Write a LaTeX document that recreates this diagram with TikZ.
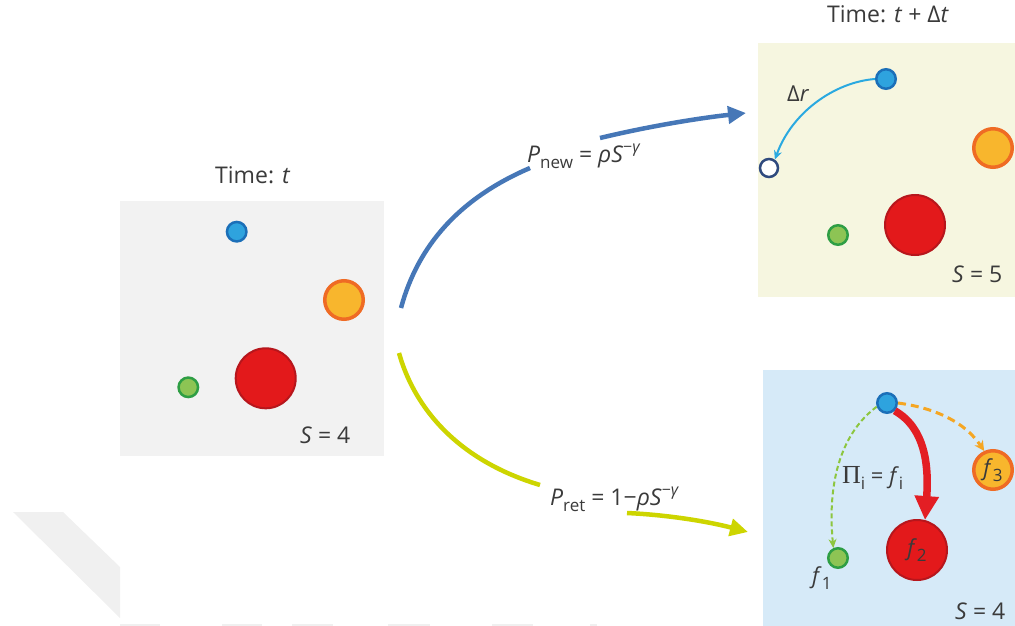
\documentclass[tikz,border=0pt]{standalone}
\usepackage{fontspec}
\setmainfont{Open Sans}
\newfontfamily\serifpi{Liberation Serif}
\usetikzlibrary{arrows.meta}
\definecolor{txt}{HTML}{3A3A3A}
\definecolor{pgray}{HTML}{F2F2F2}
\definecolor{pyel}{HTML}{F6F6E0}
\definecolor{pblue}{HTML}{D6EAF8}
\definecolor{cblue}{HTML}{2EA3DE}
\definecolor{cblueD}{HTML}{1B6FB8}
\definecolor{corange}{HTML}{F8B62D}
\definecolor{corangeD}{HTML}{EF6B24}
\definecolor{cred}{HTML}{E3191B}
\definecolor{credD}{HTML}{B7161C}
\definecolor{cgreen}{HTML}{8DC454}
\definecolor{cgreenD}{HTML}{2E9E44}
\definecolor{chollow}{HTML}{2F4A7E}
\definecolor{arcblue}{HTML}{2AA9E0}
\definecolor{mainblue}{HTML}{4677B7}
\definecolor{mainyel}{HTML}{CDD500}
\definecolor{dgreen}{HTML}{8DC63F}
\definecolor{dorange}{HTML}{F5A623}
\definecolor{ared}{HTML}{E31E24}
\definecolor{wm}{HTML}{F0F0F0}
\newcommand{\lo}[1]{\raisebox{-0.3em}{\fontsize{17}{17}\selectfont #1}}
\newcommand{\hi}[1]{\raisebox{0.42em}{\fontsize{16}{16}\selectfont #1}}
\tikzset{
  panel/.style={rectangle, inner sep=0, draw=none},
  ball/.style={circle, inner sep=0, draw, line width=2.5pt},
  blueball/.style={ball, fill=cblue, draw=cblueD, minimum size=19.5pt},
  greenball/.style={ball, fill=cgreen, draw=cgreenD, minimum size=19.5pt},
  orangeball/.style={ball, fill=corange, draw=corangeD, line width=3.5pt, minimum size=38.5pt},
  redball/.style={ball, fill=cred, draw=credD, line width=2pt, minimum size=60pt},
  lbl/.style={anchor=base west, inner sep=0, text=txt, font=\fontsize{23}{26}\selectfont},
  flbl/.style={lbl, font=\fontsize{22}{24}\selectfont},
  mainarr/.style={line width=4.5pt},
}
\begin{document}
\begin{tikzpicture}[x=1pt,y=-1pt]
\useasboundingbox (0,0) rectangle (1015,626);
% faint watermark
\fill[wm] (13,512) -- (63,512) -- (120,567) -- (120,618) -- cycle;
\foreach \a/\b in {120/160,222/262,292/333,388/430,492/533,590/597}
  \draw[wm, line width=1.5pt] (\a,625) -- (\b,625);
% panels
\node[panel, fill=pgray, minimum width=264pt, minimum height=255pt] (p0) at (252,328.5) {};
\node[panel, fill=pyel, minimum width=257pt, minimum height=254pt] (p1) at (886.5,170) {};
\node[panel, fill=pblue, minimum width=252pt, minimum height=256pt] (p2) at (889,498) {};
% titles
\node[lbl] (t0) at (215,183) {Time: \textit{t}};
\node[lbl] (t1) at (827,23) {Time: \textit{t} + Δ\textit{t}};
% left panel
\node[blueball] (b0) at (236.7,231.7) {};
\node[orangeball] (o0) at (344,300) {};
\node[redball] (r0) at (265.7,378.3) {};
\node[greenball] (g0) at (188.3,387.3) {};
\node[lbl] (s0) at (300,443) {\textit{S} = 4};
% top right panel
\node[blueball] (b1) at (886,79) {};
\node[circle, inner sep=0, draw=chollow, fill=white, line width=2.5pt, minimum size=18pt] (hol) at (769,168) {};
\node[orangeball] (o1) at (993,148) {};
\node[redball] (r1) at (915,225) {};
\node[greenball] (g1) at (838,235) {};
\node[lbl] (s1) at (952,282) {\textit{S} = 5};
\node[lbl, font=\fontsize{22}{24}\selectfont] (dr) at (787,102) {Δ\textit{r}};
\draw[arcblue, line width=2pt, -{Stealth[length=9pt,width=8pt]}]
  (b1.west) .. controls (835,82) and (792,112) .. (hol.55);
% bottom right panel
\node[blueball] (b2) at (887,403) {};
\node[orangeball, font=\fontsize{22}{24}\selectfont, text=txt] (o2) at (993,470) {\textit{f}\lo{3}};
\node[redball, font=\fontsize{22}{24}\selectfont, text=txt] (r2) at (917,550) {\textit{f}\lo{2}};
\node[greenball] (g2) at (838,558) {};
\node[flbl] (f1) at (812,583) {\textit{f}\lo{1}};
\node[flbl] (pi) at (842,483) {{\serifpi\fontsize{26}{26}\selectfont Π}\lo{i} = \textit{f}\lo{i}};
\node[lbl] (s2) at (955,619) {\textit{S} = 4};
\draw[dgreen, line width=2pt, dash pattern=on 5pt off 3pt, -{Stealth[length=9pt,width=8pt]}]
  (b2.200) .. controls (848,428) and (826,470) .. (g2.115);
\draw[dorange, line width=3pt, dash pattern=on 8pt off 5pt, -{Stealth[length=10pt,width=10pt]}]
  (b2.east) .. controls (935,408) and (965,422) .. (o2.115);
\draw[ared, line width=7.5pt, -{Triangle[length=24pt,width=23pt]}]
  (b2.south east) .. controls (925,428) and (929,465) .. (r2.75);
% main arrows
\coordinate (a0) at (401,308);
\coordinate (a1) at (530,168);
\coordinate (a2) at (600,138);
\coordinate (a3) at (746,113);
\draw[mainblue, mainarr] (a0) .. controls (418,245) and (460,198) .. (a1);
\draw[mainblue, mainarr, -{Triangle[length=18pt,width=17pt]}] (a2) .. controls (650,126) and (700,118) .. (a3);
\node[lbl] (lnew) at (527,162) {\textit{P}\lo{new} = \textit{ρS}\hi{−\textit{γ}}};
\coordinate (y0) at (399,353);
\coordinate (y1) at (540,485);
\coordinate (y2) at (627,513);
\coordinate (y3) at (748,532);
\draw[mainyel, mainarr] (y0) .. controls (412,400) and (450,458) .. (y1);
\draw[mainyel, mainarr, -{Triangle[length=18pt,width=17pt]}] (y2) .. controls (670,515) and (710,522) .. (y3);
\node[lbl] (lret) at (550,505) {\textit{P}\lo{ret} = 1−\textit{ρS}\hi{−\textit{γ}}};
\end{tikzpicture}
\end{document}
